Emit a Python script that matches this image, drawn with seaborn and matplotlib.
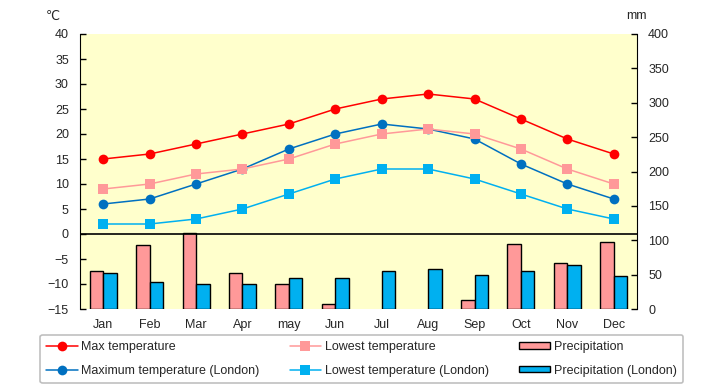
import pandas as pd
import matplotlib
matplotlib.use("Agg")
import matplotlib.pyplot as plt
import seaborn as sns

# data
months = ["Jan", "Feb", "Mar", "Apr", "may", "Jun", "Jul", "Aug", "Sep", "Oct", "Nov", "Dec"]
max_temp = [15, 16, 18, 20, 22, 25, 27, 28, 27, 23, 19, 16]
low_temp = [9, 10, 12, 13, 15, 18, 20, 21, 20, 17, 13, 10]
max_temp_london = [6, 7, 10, 13, 17, 20, 22, 21, 19, 14, 10, 7]
low_temp_london = [2, 2, 3, 5, 8, 11, 13, 13, 11, 8, 5, 3]
precip = [56, 93, 111, 52, 37, 8, 0, 0, 13, 95, 67, 97]
precip_london = [52, 39, 36, 37, 45, 45, 55, 58, 49, 56, 64, 48]

sns.set_style("white")
plt.rcParams["font.family"] = ["Liberation Sans", "DejaVu Sans"]

fig = plt.figure(figsize=(7.2, 3.85), dpi=100)
ax = fig.add_axes([80 / 720, 1 - 309 / 385, 557 / 720, 275 / 385])
ax2 = ax.twinx()

# bars on the right axis, behind the lines
bars = pd.DataFrame({
    "month": months * 2,
    "mm": precip + precip_london,
    "series": ["Precipitation"] * 12 + ["Precipitation (London)"] * 12,
})
sns.barplot(data=bars, x="month", y="mm", hue="series", ax=ax2,
            palette=["#FF9999", "#00B0F0"], saturation=1, edgecolor="black",
            linewidth=1, width=0.58, legend=False)
for p in ax2.patches:
    if p.get_height() == 0:
        p.set_visible(False)
ax2.patch.set_visible(True)
ax2.set_facecolor("#FFFFCC")
ax.set_zorder(ax2.get_zorder() + 1)
ax.patch.set_visible(False)

line_styles = [
    (max_temp, "Max temperature", "#FF0000", "o"),
    (max_temp_london, "Maximum temperature (London)", "#0070C0", "o"),
    (low_temp, "Lowest temperature", "#FF9999", "s"),
    (low_temp_london, "Lowest temperature (London)", "#00B0F0", "s"),
]
for vals, lab, col, mk in line_styles:
    sns.lineplot(x=months, y=vals, ax=ax, color=col, marker=mk, markersize=7,
                 markeredgewidth=0, linewidth=1.1, label=lab, sort=False)

ax.axhline(0, color="black", linewidth=1.2)
ax.set_ylim(-15, 40)
ax.set_yticks(range(-15, 41, 5))
ax2.set_ylim(0, 400)
ax2.set_yticks(range(0, 401, 50))
ax.set_xlim(-0.5, 11.5)
ax.set_xlabel("")
ax.set_ylabel("")
ax2.set_xlabel("")
ax2.set_ylabel("")

for a in (ax, ax2):
    a.tick_params(direction="in", length=4, width=1, labelsize=9, color="black")
    for s in a.spines.values():
        s.set_visible(False)
ax.spines["left"].set_visible(True)
ax.spines["left"].set_color("black")
ax2.spines["right"].set_visible(True)
ax2.spines["right"].set_color("black")
ax.tick_params(axis="x", length=0, pad=7)
ax2.tick_params(axis="x", length=0)
ax.tick_params(axis="y", left=True, pad=8)
ax2.tick_params(axis="y", right=True, pad=8)

fig.text(53 / 720, 1 - 17 / 385, "\u2103", fontsize=9, ha="center", va="center")
fig.text(636 / 720, 1 - 16 / 385, "mm", fontsize=9, ha="center", va="center")

# legend, filled column by column
handles, labels = ax.get_legend_handles_labels()
ax.get_legend().remove()
handles += [ax2.containers[0], ax2.containers[1]]
labels += ["Precipitation", "Precipitation (London)"]
leg = fig.legend(handles, labels, ncol=3, loc="lower left", mode="expand",
                 bbox_to_anchor=(40 / 720, 2 / 385, 643 / 720, 50 / 385),
                 borderaxespad=0, fontsize=9, frameon=True, fancybox=True,
                 edgecolor="#B0B0B0", handlelength=2.5, handleheight=0.4,
                 handletextpad=0.3, labelspacing=0.95, borderpad=0.5)
leg.get_frame().set_linewidth(1.2)

fig.savefig("out.png", dpi=100)
